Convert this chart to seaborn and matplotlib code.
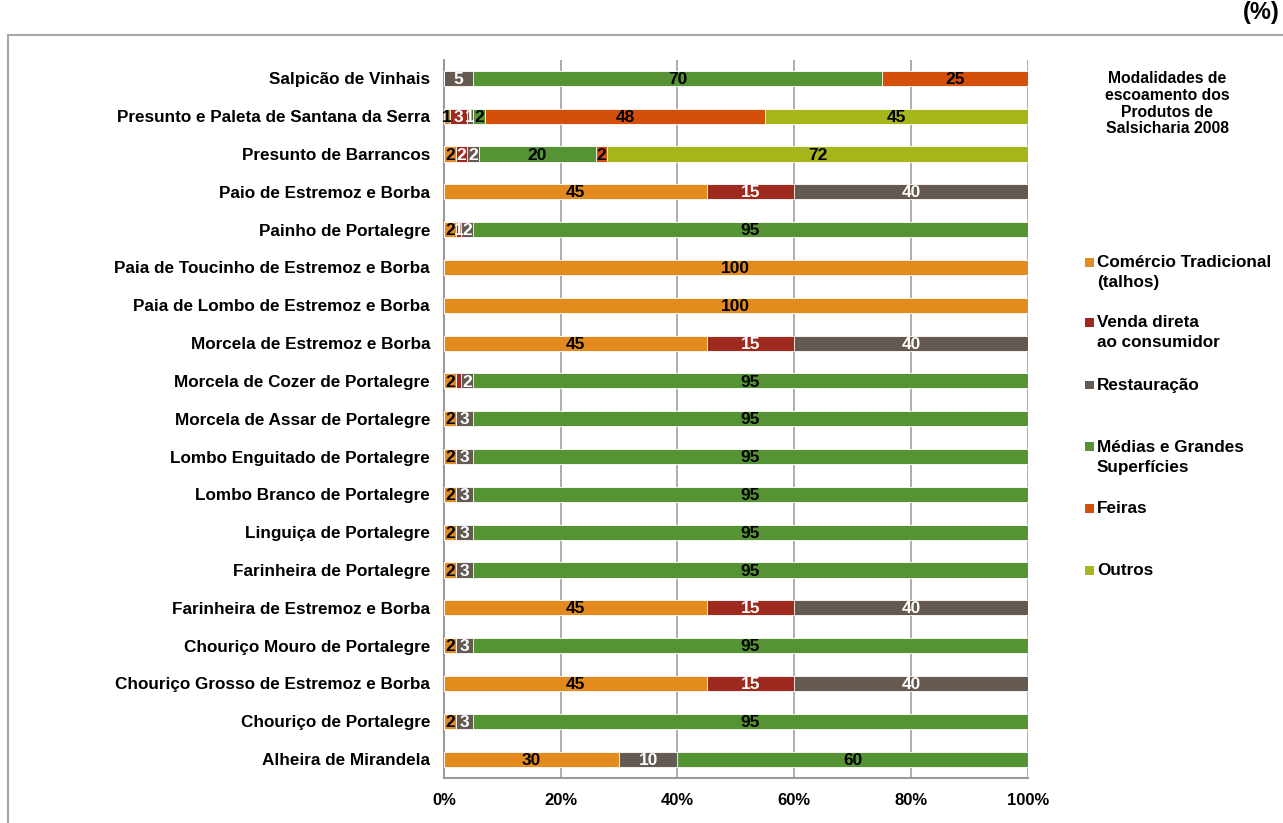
import numpy as np
import pandas as pd
import seaborn as sns
import matplotlib.pyplot as plt
from matplotlib.patches import Rectangle
from matplotlib.ticker import FixedLocator, PercentFormatter

# Produtos (de cima para baixo)
produtos = [
    "Salpicão de Vinhais",
    "Presunto e Paleta de Santana da Serra",
    "Presunto de Barrancos",
    "Paio de Estremoz e Borba",
    "Painho de Portalegre",
    "Paia de Toucinho de Estremoz e Borba",
    "Paia de Lombo de Estremoz e Borba",
    "Morcela de Estremoz e Borba",
    "Morcela de Cozer de Portalegre",
    "Morcela de Assar de Portalegre",
    "Lombo Enguitado de Portalegre",
    "Lombo Branco de Portalegre",
    "Linguiça de Portalegre",
    "Farinheira de Portalegre",
    "Farinheira de Estremoz e Borba",
    "Chouriço Mouro de Portalegre",
    "Chouriço Grosso de Estremoz e Borba",
    "Chouriço de Portalegre",
    "Alheira de Mirandela",
]

# Valores por modalidade (%)
comercio    = [0, 1, 2, 45, 2, 100, 100, 45, 2, 2, 2, 2, 2, 2, 45, 2, 45, 2, 30]
venda       = [0, 3, 2, 15, 1, 0, 0, 15, 1, 0, 0, 0, 0, 0, 15, 0, 15, 0, 0]
restauracao = [5, 1, 2, 40, 2, 0, 0, 40, 2, 3, 3, 3, 3, 3, 40, 3, 40, 3, 10]
medias      = [70, 2, 20, 0, 95, 0, 0, 0, 95, 95, 95, 95, 95, 95, 0, 95, 0, 95, 60]
feiras      = [25, 48, 2, 0, 0, 0, 0, 0, 0, 0, 0, 0, 0, 0, 0, 0, 0, 0, 0]
outros      = [0, 45, 72, 0, 0, 0, 0, 0, 0, 0, 0, 0, 0, 0, 0, 0, 0, 0, 0]

series_nomes = ["Comércio Tradicional\n(talhos)", "Venda direta\nao consumidor", "Restauração",
                "Médias e Grandes\nSuperfícies", "Feiras", "Outros"]
series_vals = [comercio, venda, restauracao, medias, feiras, outros]
cores = ["#E38B1D", "#9E2A1F", "#645A52", "#569334", "#D4500A", "#A5B51A"]
cor_texto = ["black", "white", "white", "black", "black", "black"]
# rótulos não mostrados no original (produto, índice da série)
ocultos = {("Morcela de Cozer de Portalegre", 1)}

titulo = "Modalidades de\nescoamento dos\nProdutos de\nSalsicharia 2008"

sns.set_style("white")
plt.rcParams['font.family'] = ['Liberation Sans', 'DejaVu Sans']
plt.rcParams['font.weight'] = 'bold'
plt.rcParams['text.color'] = 'black'
plt.rcParams['xtick.labelcolor'] = 'black'
plt.rcParams['ytick.labelcolor'] = 'black'

df = pd.DataFrame(dict(zip(range(6), series_vals)), index=produtos)
cum = df.cumsum(axis=1)

fig = plt.figure(figsize=(12.83, 8.23), dpi=100)
ax = fig.add_axes([0.346, 0.0547, 0.455, 0.873])

# barras empilhadas: desenhar do maior acumulado para o menor
for k in range(5, -1, -1):
    d = pd.DataFrame({"produto": produtos, "valor": cum[k].values})
    sns.barplot(data=d, x="valor", y="produto", order=produtos, orient="h",
                color=cores[k], width=0.4, edgecolor="white", linewidth=0.6,
                saturation=1, ax=ax, zorder=3)

# rótulos dos valores
for i, p in enumerate(produtos):
    esquerda = 0
    for k in range(6):
        v = df.loc[p, k]
        if v > 0 and (p, k) not in ocultos:
            ax.text(esquerda + v / 2, i + 0.03, str(v), ha="center", va="center",
                    color=cor_texto[k], fontsize=12.5, fontweight="bold", zorder=5)
        esquerda += v

ax.set_xlim(0, 100)
ax.set_ylim(len(produtos) - 0.5, -0.5)
ax.set_xlabel("")
ax.set_ylabel("")
ax.xaxis.set_major_locator(FixedLocator([0, 20, 40, 60, 80, 100]))
ax.xaxis.set_major_formatter(PercentFormatter(decimals=0))
ax.grid(axis="x", color="#A0A0A0", linewidth=1.2, zorder=0)
ax.set_axisbelow(True)
for s in ["top", "right"]:
    ax.spines[s].set_visible(False)
for s in ["left", "bottom"]:
    ax.spines[s].set_color("#9A9A9A")
    ax.spines[s].set_linewidth(1.5)
ax.tick_params(axis="x", direction="out", length=5, color="#9A9A9A", width=1.2,
               labelsize=12, pad=6)
ax.tick_params(axis="y", which="major", length=0, labelsize=12.3, pad=10)
ax.yaxis.set_minor_locator(FixedLocator(np.arange(-0.5, len(produtos), 1)))
ax.tick_params(axis="y", which="minor", direction="out", length=5, color="#9A9A9A", width=1.2)
for lbl in ax.get_xticklabels() + ax.get_yticklabels():
    lbl.set_fontweight("bold")

# moldura exterior
fig.patches.append(Rectangle((8 / 1283, -0.05), 1.1, 1 - 35 / 823 + 0.05, transform=fig.transFigure,
                             fill=False, edgecolor="#A6A6A6", linewidth=1.5, figure=fig))
fig.text(1 - 3 / 1283, 1 - 12 / 823, "(%)", ha="right", va="center", fontsize=17, fontweight="bold")

# título
fig.text(1167 / 1283, 1 - 71 / 823, titulo, ha="center", va="top", fontsize=11.3,
         fontweight="bold", linespacing=1.15)

# legenda
leg_y = [262, 322, 385, 447, 508, 570]
for k in range(6):
    y = 1 - leg_y[k] / 823
    fig.patches.append(Rectangle((1085 / 1283, y - 4.5 / 823), 9 / 1283, 9 / 823,
                                 transform=fig.transFigure, facecolor=cores[k],
                                 edgecolor="none", figure=fig))
    fig.text(1097 / 1283, y + 7 / 823, series_nomes[k], ha="left", va="top",
             fontsize=12.3, fontweight="bold", linespacing=1.4)

plt.savefig("out.png", dpi=100)
